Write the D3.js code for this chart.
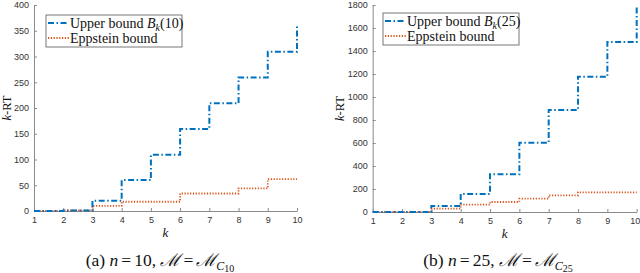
<!DOCTYPE html>
<html><head><meta charset="utf-8">
<script src="https://cdn.jsdelivr.net/npm/d3@7"></script>
<style>
body{margin:0;background:#fff;}
svg{display:block;}
.tick text{font-family:"Liberation Sans",Arial,sans-serif;font-size:9px;fill:#333;}
</style></head><body>
<svg id="c" width="640" height="273"></svg>
<script>
const ks = [1,2,3,4,5,6,7,8,9,10];
const upperA = [0,1,20,60,109,159,209,259,309,359];
const eppA   = [0,1,10,18,18,34,34,44,62,62];
const upperB = [0,1,52,157,328,603,887,1177,1479,1786];
const eppB   = [0,1,29,64,87,116,145,171,171,171];
const yTicksA = [0,50,100,150,200,250,300,350,400];
const yTicksB = [0,200,400,600,800,1000,1200,1400,1600,1800];
const xTicks = [1,2,3,4,5,6,7,8,9,10];

const svg = d3.select("#c");
const serif = "'Liberation Serif','DejaVu Serif',serif";

function panel(o){
  const g = svg.append("g");
  const x = d3.scaleLinear().domain([1,10]).range([o.x0,o.x1]);
  const y = d3.scaleLinear().domain([0,o.ymax]).range([o.y0,o.y1]);
  const ax = g.append("g").attr("transform",`translate(0,${o.y0})`)
    .call(d3.axisBottom(x).tickValues(xTicks).tickFormat(d3.format("d")).tickSizeInner(-3).tickSizeOuter(0).tickPadding(6));
  const ay = g.append("g").attr("transform",`translate(${o.x0},0)`)
    .call(d3.axisLeft(y).tickValues(o.yticks).tickFormat(d3.format("d")).tickSizeInner(-3).tickSizeOuter(0).tickPadding(5));
  [ax,ay].forEach(a=>{a.selectAll(".domain").attr("stroke","#8a8a8a").attr("stroke-width",1);
    a.selectAll(".tick line").attr("stroke","#8a8a8a");});
  if(o.shiftLast){ ax.selectAll(".tick text").filter(d=>d===10).attr("dx",-2); }
  function stairs(vals){
    let p = `M${x(ks[0])},${y(vals[0])}`;
    for(let i=1;i<vals.length;i++){p+=`H${x(ks[i])}V${y(vals[i])}`;}
    return p;
  }
  g.append("path").attr("d",stairs(o.epp)).attr("fill","none").attr("stroke","#D95319")
    .attr("stroke-width",1.8).attr("stroke-dasharray","1.2,1.6");
  g.append("path").attr("d",stairs(o.upper)).attr("fill","none").attr("stroke","#0072BD")
    .attr("stroke-width",2).attr("stroke-dasharray","6,2.5,1.5,2.5");
  // legend
  const lg = g.append("g");
  lg.append("rect").attr("x",o.lx).attr("y",o.ly).attr("width",136).attr("height",32)
    .attr("fill","#fff").attr("stroke","#555").attr("stroke-width",0.8);
  lg.append("line").attr("x1",o.lx+2).attr("x2",o.lx+23).attr("y1",o.ly+8).attr("y2",o.ly+8)
    .attr("stroke","#0072BD").attr("stroke-width",2).attr("stroke-dasharray","6,2.5,1.5,2.5");
  lg.append("line").attr("x1",o.lx+2).attr("x2",o.lx+23).attr("y1",o.ly+23).attr("y2",o.ly+23)
    .attr("stroke","#D95319").attr("stroke-width",1.8).attr("stroke-dasharray","1.2,1.6");
  const t1 = lg.append("text").attr("x",o.lx+24).attr("y",o.ly+12.5).attr("font-family",serif).attr("font-size",14).attr("fill","#111");
  t1.append("tspan").text("Upper bound ");
  t1.append("tspan").attr("font-style","italic").text("B");
  t1.append("tspan").attr("font-style","italic").attr("font-size",10).attr("dy",3).text("k");
  t1.append("tspan").attr("dy",-3).text(`(${o.n})`);
  lg.append("text").attr("x",o.lx+24).attr("y",o.ly+27.5).attr("font-family",serif).attr("font-size",14).attr("fill","#111").text("Eppstein bound");
  // axis labels
  const yl = g.append("text").attr("transform",`translate(${o.ylx},${(o.y0+o.y1)/2}) rotate(-90)`)
    .attr("text-anchor","middle").attr("font-family",serif).attr("font-size",12.5).attr("fill","#111");
  yl.append("tspan").attr("font-style","italic").text("k");
  yl.append("tspan").text("-RT");
  g.append("text").attr("x",(o.x0+o.x1)/2).attr("y",o.y0+26).attr("text-anchor","middle")
    .attr("font-family",serif).attr("font-style","italic").attr("font-size",13).attr("fill","#111").text("k");
  // caption
  const c = g.append("text").attr("x",o.cx).attr("y",266).attr("text-anchor","middle")
    .attr("font-family",serif).attr("font-size",17.5).attr("fill","#111");
  c.append("tspan").text(`(${o.tag}) `);
  c.append("tspan").attr("font-style","italic").text("n");
  c.append("tspan").attr("dx",3).text("=");
  c.append("tspan").attr("dx",3).text(`${o.n}, `);
  c.append("tspan").attr("font-family","'DejaVu Serif',serif").attr("font-style","italic").text("ℳ");
  c.append("tspan").attr("dx",3).text("=");
  c.append("tspan").attr("dx",3).attr("font-family","'DejaVu Serif',serif").attr("font-style","italic").text("ℳ");
  c.append("tspan").attr("font-style","italic").attr("font-size",12).attr("dy",4).text("C");
  c.append("tspan").attr("font-size",10).attr("dy",2).text(o.n);
}

panel({x0:34,x1:297,y0:211,y1:5,ymax:400,yticks:yTicksA,upper:upperA,epp:eppA,n:10,lx:46,ly:15,ylx:11,cx:160,tag:"a"});
panel({x0:372.7,x1:636.7,y0:212,y1:5,ymax:1800,yticks:yTicksB,upper:upperB,epp:eppB,n:25,lx:383,ly:13,ylx:344,cx:498,tag:"b",shiftLast:true});
</script></body></html>
